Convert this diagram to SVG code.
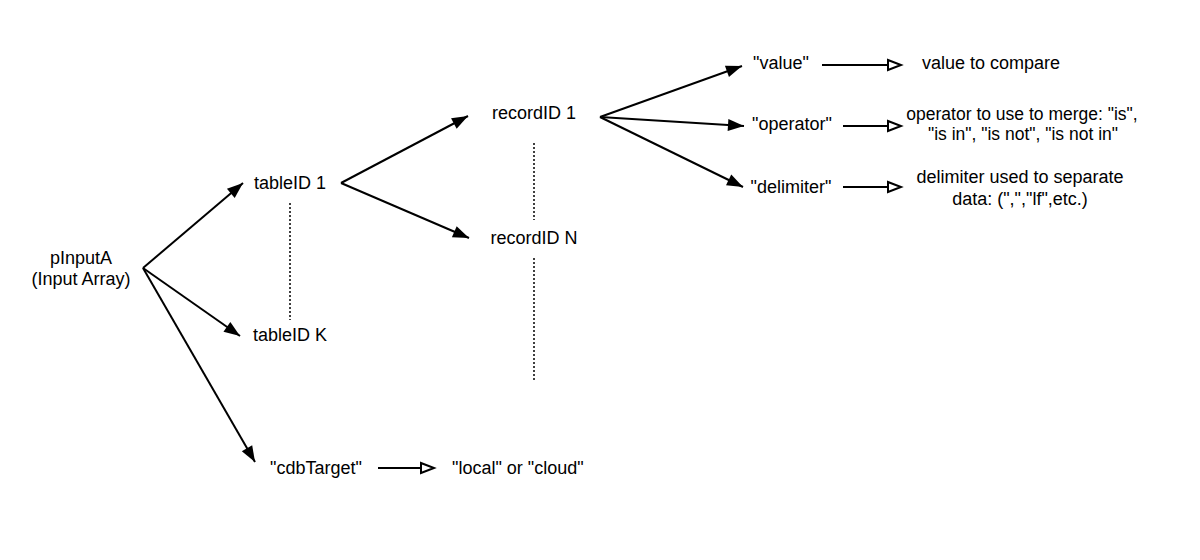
<svg xmlns="http://www.w3.org/2000/svg" width="1200" height="560" viewBox="0 0 1200 560">
<style>
text{font-family:"Liberation Sans",Arial,sans-serif;font-size:18px;fill:#000}
.c{text-anchor:middle}
.s{font-size:17.5px}
.ln{stroke:#000;stroke-width:2;fill:none}
.fa{marker-end:url(#fill)}
.ha{marker-end:url(#hollow)}
.dot{stroke:#000;stroke-width:1.5;stroke-dasharray:2,2;fill:none}
</style>
<defs>
<marker id="fill" markerUnits="userSpaceOnUse" markerWidth="18" markerHeight="14" refX="16" refY="6" orient="auto" overflow="visible">
<path d="M0,0 L16,6 L0,12 z" fill="#000"/>
</marker>
<marker id="hollow" markerUnits="userSpaceOnUse" markerWidth="16" markerHeight="12" refX="0" refY="5" orient="auto" overflow="visible">
<path d="M0,0 L13,5 L0,10 z" fill="#fff" stroke="#000" stroke-width="2"/>
</marker>
</defs>
<rect width="1200" height="560" fill="#fff"/>
<g id="connectors">
<line class="ln fa" x1="143" y1="268" x2="243" y2="183"/>
<line class="ln fa" x1="143" y1="268" x2="240" y2="336"/>
<line class="ln fa" x1="143" y1="268" x2="255" y2="462"/>
<line class="ln fa" x1="341" y1="183" x2="468" y2="116"/>
<line class="ln fa" x1="341" y1="183" x2="469" y2="238"/>
<line class="ln fa" x1="600" y1="117" x2="742" y2="66"/>
<line class="ln fa" x1="600" y1="117" x2="744" y2="126"/>
<line class="ln fa" x1="600" y1="117" x2="743" y2="187"/>
<line class="ln ha" x1="822" y1="65" x2="888" y2="65"/>
<line class="ln ha" x1="843" y1="126" x2="888" y2="126"/>
<line class="ln ha" x1="843" y1="187" x2="888" y2="187"/>
<line class="ln ha" x1="378" y1="468" x2="421" y2="468"/>
<line class="dot" x1="290" y1="203" x2="290" y2="320"/>
<line class="dot" x1="534" y1="143" x2="534" y2="220"/>
<line class="dot" x1="534" y1="258" x2="534" y2="380"/>
</g>
<g id="pInputA"><text class="c" x="81" y="264">pInputA</text><text class="c" x="81" y="285">(Input Array)</text></g>
<g id="tableID1"><text class="c" x="290" y="189">tableID 1</text></g>
<g id="tableIDK"><text class="c" x="290" y="341">tableID K</text></g>
<g id="cdbTarget"><text class="c" x="316" y="474">"cdbTarget"</text></g>
<g id="localCloud"><text x="452" y="474">"local" or "cloud"</text></g>
<g id="recordID1"><text class="c" x="534" y="119">recordID 1</text></g>
<g id="recordIDN"><text class="c" x="534" y="244">recordID N</text></g>
<g id="value"><text class="c" x="781" y="69">"value"</text></g>
<g id="operator"><text class="c" x="792" y="130">"operator"</text></g>
<g id="delimiter"><text class="c" x="791" y="193">"delimiter"</text></g>
<g id="valueDesc"><text x="922" y="69">value to compare</text></g>
<g id="operatorDesc"><text class="c s" x="1022" y="120">operator to use to merge: "is",</text><text class="c s" x="1023" y="140">"is in", "is not", "is not in"</text></g>
<g id="delimiterDesc"><text class="c" x="1020" y="183">delimiter used to separate</text><text class="c" x="1020" y="205">data: (",","lf",etc.)</text></g>
</svg>
